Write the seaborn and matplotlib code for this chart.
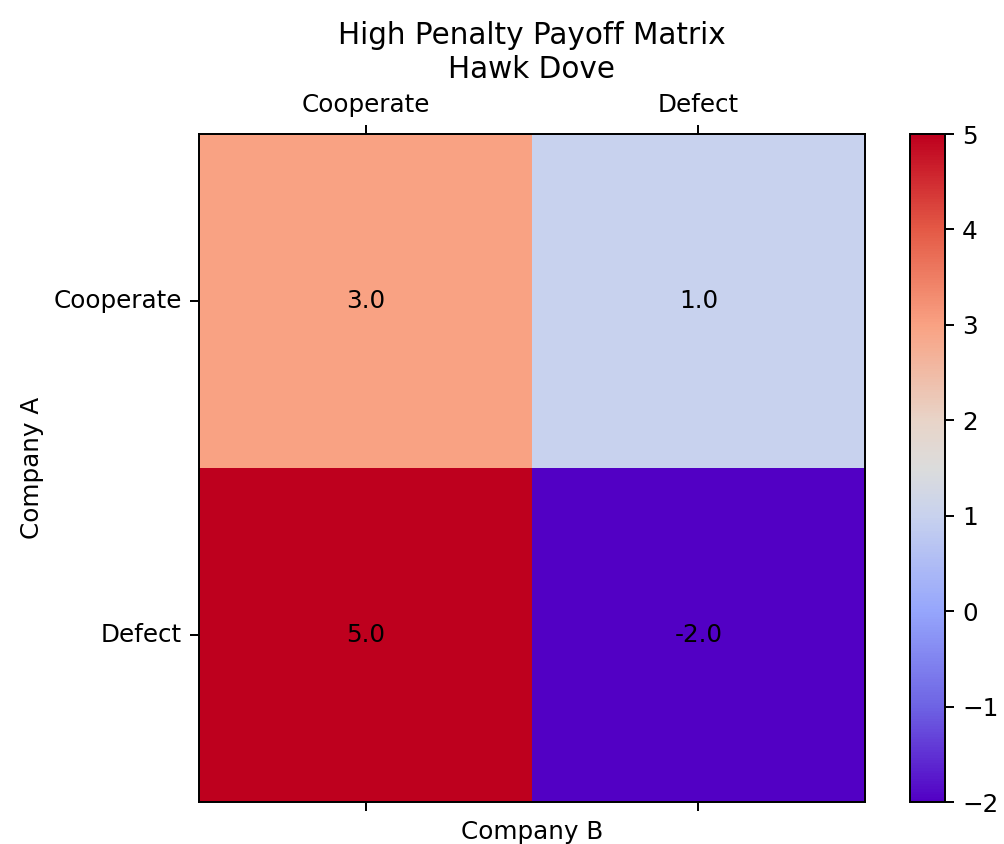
import numpy as np
import pandas as pd
import matplotlib
matplotlib.use("Agg")
import matplotlib.pyplot as plt
from matplotlib.colors import LinearSegmentedColormap
import seaborn as sns

# Data
row_labels = ["Cooperate", "Defect"]
col_labels = ["Cooperate", "Defect"]
payoff_row_cooperate = [3.0, 1.0]
payoff_row_defect = [5.0, -2.0]

df = pd.DataFrame([payoff_row_cooperate, payoff_row_defect],
                  index=row_labels, columns=col_labels)

# Colormap resembling a saturated coolwarm
anchors = [
    (0.0, (82/255, 0/255, 196/255)),
    (1/7, (110/255, 100/255, 228/255)),
    (2/7, (150/255, 166/255, 252/255)),
    (3/7, (200/255, 210/255, 238/255)),
    (3.5/7, (220/255, 220/255, 220/255)),
    (4/7, (232/255, 212/255, 200/255)),
    (5/7, (249/255, 162/255, 131/255)),
    (6/7, (228/255, 90/255, 70/255)),
    (1.0, (190/255, 0/255, 30/255)),
]
cmap = LinearSegmentedColormap.from_list("satcoolwarm", anchors, N=256)

W, H = 1004, 844
dpi = 177
fig = plt.figure(figsize=(W / dpi, H / dpi), dpi=dpi)
ax_l, ax_r, ax_t, ax_b = 199, 865, 134, 802
ax = fig.add_axes([ax_l / W, 1 - ax_b / H, (ax_r - ax_l) / W, (ax_b - ax_t) / H])
cax = fig.add_axes([910 / W, 1 - ax_b / H, 35 / W, (ax_b - ax_t) / H])

sns.heatmap(df, ax=ax, cbar_ax=cax, cmap=cmap, vmin=-2, vmax=5,
            annot=True, fmt=".1f", annot_kws={"color": "black", "fontsize": 10})

for s in ax.spines.values():
    s.set_visible(True)
    s.set_linewidth(0.8)
    s.set_color("black")

cb = ax.collections[0].colorbar
cb.outline.set_visible(True)
cb.outline.set_linewidth(0.8)
cb.outline.set_edgecolor("black")
cb.set_ticks([-2, -1, 0, 1, 2, 3, 4, 5])
cb.ax.tick_params(labelsize=10, length=3.5, width=0.8)

ax.xaxis.set_ticks_position("both")
ax.tick_params(axis="x", labeltop=True, labelbottom=False, length=3.5, width=0.8, labelsize=10)
ax.tick_params(axis="y", length=3.5, width=0.8, labelsize=10)
ax.xaxis.set_label_position("bottom")
plt.setp(ax.get_yticklabels(), rotation=0, va="center")
plt.setp(ax.get_xticklabels(), rotation=0)

ax.set_xlabel("Company B", fontsize=10)
ax.set_ylabel("Company A", fontsize=10)
ax.set_title("High Penalty Payoff Matrix\nHawk Dove", fontsize=12)

fig.savefig("out.png", dpi=dpi)
